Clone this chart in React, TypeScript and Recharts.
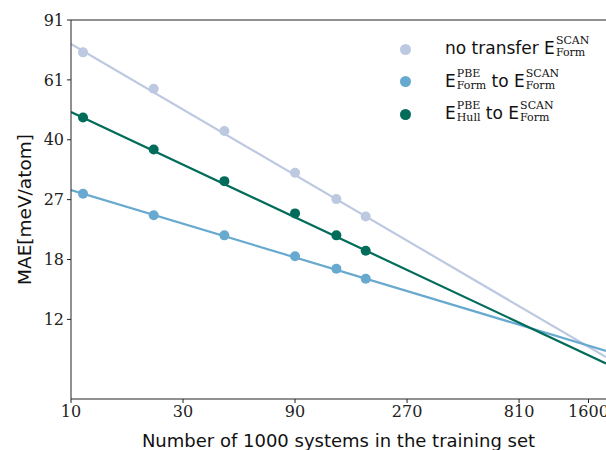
import React from "react";
import {
  ComposedChart,
  Line,
  Scatter,
  XAxis,
  YAxis,
  ReferenceLine,
} from "recharts";

// training set sizes (thousands of systems)
const trainSizes = [11.25, 22.5, 45, 90, 135, 180];
// MAE in meV/atom
const noTransfer = [73.2, 57.2, 43.0, 32.4, 27.1, 24.1];
const formToForm = [28.1, 24.3, 21.2, 18.4, 16.9, 15.8];
const hullToForm = [47.1, 37.9, 30.6, 24.6, 21.2, 19.1];

// power-law fit lines, read at the ends of the plot
const fitX = [10, 1900];
const noTransferFit = [77.5, 9.3];
const formToFormFit = [28.8, 9.7];
const hullToFormFit = [48.9, 8.9];

const xTicks = [10, 30, 90, 270, 810, 1600];
const yTicks = [12, 18, 27, 40.5, 60.75, 91.125];
const yTickLabels = ["12", "18", "27", "40", "61", "91"];

const LIGHT = "#bdc9e1";
const BLUE = "#67a9cf";
const GREEN = "#016c59";

const toPoints = (xs: number[], ys: number[]) =>
  xs.map((x, i) => ({ x, y: ys[i] }));

const dot = (color: string) => (props: any) => (
  <circle cx={props.cx} cy={props.cy} r={5} fill={color} />
);

const serif = "'DejaVu Serif', serif";
const sans = "'DejaVu Sans', sans-serif";

const SupSub = ({ sup, sub }: { sup: string; sub: string }) => (
  <span
    style={{
      display: "inline-flex",
      flexDirection: "column",
      fontFamily: serif,
      fontSize: 11,
      lineHeight: "12px",
      verticalAlign: "middle",
      marginLeft: 1,
      position: "relative",
      top: -2,
    }}
  >
    <span>{sup}</span>
    <span>{sub}</span>
  </span>
);

const legendItems = [
  { color: LIGHT, label: <>no transfer E<SupSub sup="SCAN" sub="Form" /></> },
  {
    color: BLUE,
    label: (
      <>
        E<SupSub sup="PBE" sub="Form" /> to E<SupSub sup="SCAN" sub="Form" />
      </>
    ),
  },
  {
    color: GREEN,
    label: (
      <>
        E<SupSub sup="PBE" sub="Hull" /> to E<SupSub sup="SCAN" sub="Form" />
      </>
    ),
  },
];

export default function App() {
  return (
    <div
      style={{
        position: "absolute",
        left: 0,
        top: 0,
        width: 606,
        height: 450,
        background: "#fff",
        overflow: "hidden",
      }}
    >
      <ComposedChart
        width={606}
        height={450}
        margin={{ top: 20, right: 0, bottom: 0, left: 0 }}
      >
        <XAxis
          dataKey="x"
          type="number"
          scale="log"
          domain={[10, 1900]}
          allowDataOverflow
          ticks={xTicks}
          height={51}
          stroke="#222"
          tickSize={4}
          tickMargin={3}
          tick={{ fill: "#222", fontSize: 16, fontFamily: serif }}
          label={{
            value: "Number of 1000 systems in the training set",
            position: "insideBottom",
            offset: 3,
            fill: "#111",
            fontSize: 18,
            fontFamily: sans,
          }}
        />
        <YAxis
          dataKey="y"
          type="number"
          scale="log"
          domain={[7, 91.125]}
          allowDataOverflow
          ticks={yTicks}
          width={71}
          stroke="#222"
          tickSize={4}
          tickMargin={3}
          tickFormatter={(v: number) => yTickLabels[yTicks.indexOf(v)] ?? ""}
          tick={{ fill: "#222", fontSize: 16, fontFamily: serif }}
          label={{
            value: "MAE[meV/atom]",
            angle: -90,
            position: "insideLeft",
            offset: 24,
            style: { textAnchor: "middle" },
            fill: "#111",
            fontSize: 18.5,
            fontFamily: sans,
          }}
        />
        <ReferenceLine y={91.125} stroke="#222" strokeWidth={1} />

        <Line
          data={toPoints(fitX, noTransferFit)}
          dataKey="y"
          stroke={LIGHT}
          strokeWidth={2.2}
          dot={false}
          activeDot={false}
          isAnimationActive={false}
        />
        <Line
          data={toPoints(fitX, formToFormFit)}
          dataKey="y"
          stroke={BLUE}
          strokeWidth={2.2}
          dot={false}
          activeDot={false}
          isAnimationActive={false}
        />
        <Line
          data={toPoints(fitX, hullToFormFit)}
          dataKey="y"
          stroke={GREEN}
          strokeWidth={2.2}
          dot={false}
          activeDot={false}
          isAnimationActive={false}
        />

        <Scatter
          data={toPoints(trainSizes, noTransfer)}
          dataKey="y"
          shape={dot(LIGHT)}
          isAnimationActive={false}
        />
        <Scatter
          data={toPoints(trainSizes, formToForm)}
          dataKey="y"
          shape={dot(BLUE)}
          isAnimationActive={false}
        />
        <Scatter
          data={toPoints(trainSizes, hullToForm)}
          dataKey="y"
          shape={dot(GREEN)}
          isAnimationActive={false}
        />
      </ComposedChart>

      <div style={{ position: "absolute", left: 400, top: 33 }}>
        {legendItems.map((item, i) => (
          <div
            key={i}
            style={{
              display: "flex",
              alignItems: "center",
              height: 32.5,
              fontFamily: sans,
              fontSize: 17,
              color: "#111",
              whiteSpace: "nowrap",
            }}
          >
            <span
              style={{
                display: "inline-block",
                width: 11,
                height: 11,
                borderRadius: "50%",
                background: item.color,
                marginRight: 34,
              }}
            />
            <span>{item.label}</span>
          </div>
        ))}
      </div>
    </div>
  );
}
